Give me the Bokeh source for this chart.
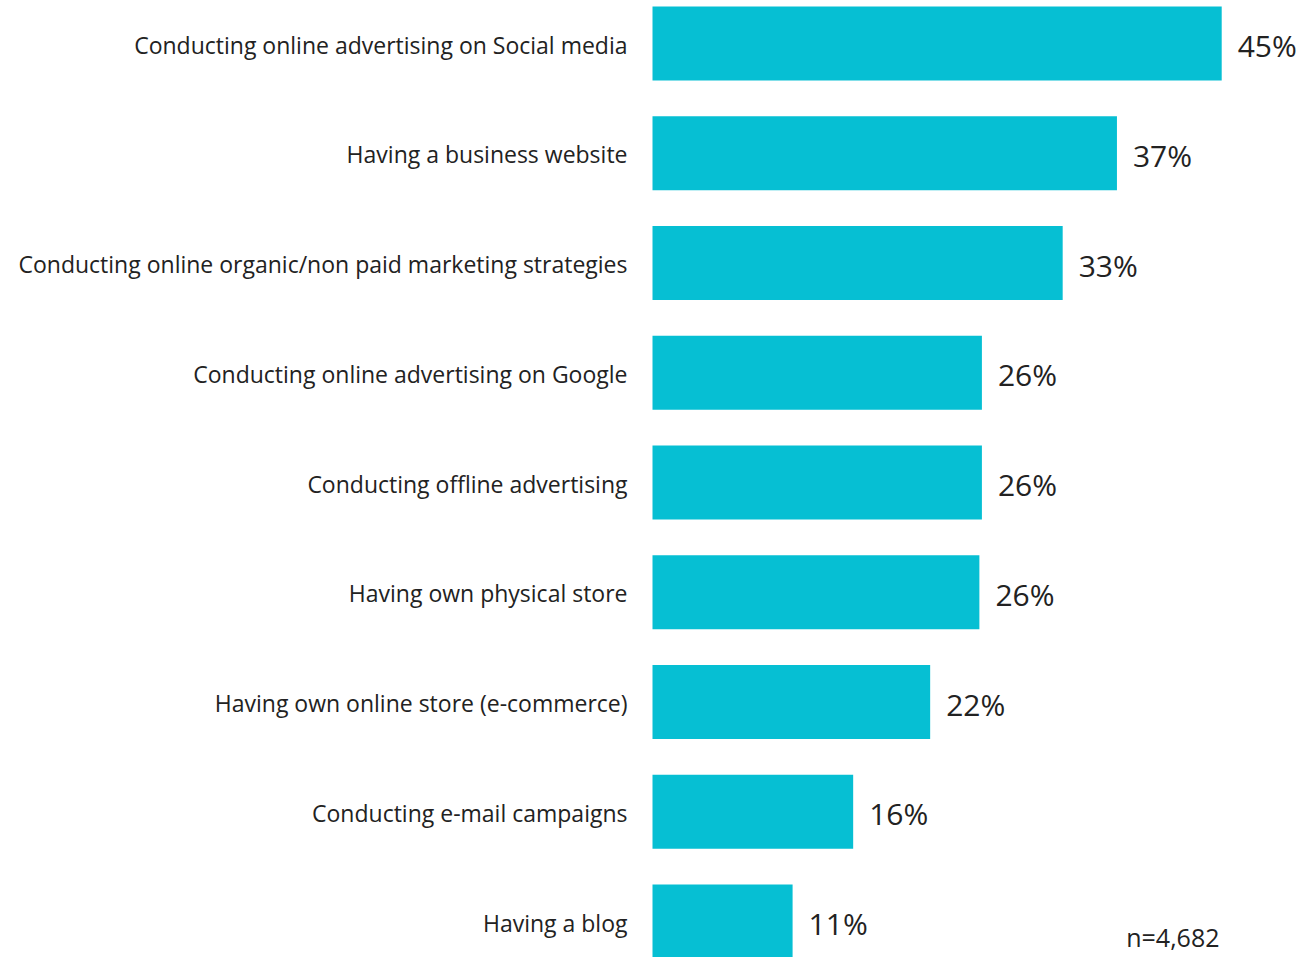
from bokeh.plotting import figure
from bokeh.models import Range1d, ColumnDataSource, Label
from bokeh.core.properties import value
from bokeh.embed import file_html
from bokeh.resources import INLINE

categories = [
    "Conducting online advertising on Social media",
    "Having a business website",
    "Conducting online organic/non paid marketing strategies",
    "Conducting online advertising on Google",
    "Conducting offline advertising",
    "Having own physical store",
    "Having own online store (e-commerce)",
    "Conducting e-mail campaigns",
    "Having a blog",
]
values = [45.1, 36.8, 32.5, 26.1, 26.1, 25.9, 22.0, 15.9, 11.1]
value_labels = ["45%", "37%", "33%", "26%", "26%", "26%", "22%", "16%", "11%"]
sample_note = "n=4,682"

BAR_COLOR = "#06BFD3"
TEXT_COLOR = "#222222"
FONT = "Open Sans"

idx = list(range(len(categories)))
src = ColumnDataSource(dict(y=idx, v=values, cat=categories, lab=value_labels))

p = figure(width=1304, height=957, output_backend="svg", toolbar_location=None,
           x_range=Range1d(-51.66, 51.66), y_range=Range1d(8.328, -0.392),
           min_border=0)
p.axis.visible = False
p.grid.visible = False
p.outline_line_color = None
p.background_fill_color = "white"
p.border_fill_color = "white"

p.hbar(y="y", left=0, right="v", height=0.674, source=src,
       fill_color=BAR_COLOR, line_color=None)

p.text(x=0, y="y", text="cat", source=src, x_offset=-25, y_offset=1,
       text_align="right", text_baseline="middle",
       text_font=value(FONT), text_font_size="23px", text_color=TEXT_COLOR)

p.text(x="v", y="y", text="lab", source=src, x_offset=16, y_offset=2,
       text_align="left", text_baseline="middle",
       text_font=value(FONT), text_font_size="30px", text_color=TEXT_COLOR)

p.add_layout(Label(x=1219, y=4, x_units="screen", y_units="screen",
                   text=sample_note, text_align="right", text_baseline="bottom",
                   text_font=FONT, text_font_size="25px", text_color=TEXT_COLOR))

open("out.html", "w").write(file_html(p, INLINE))
